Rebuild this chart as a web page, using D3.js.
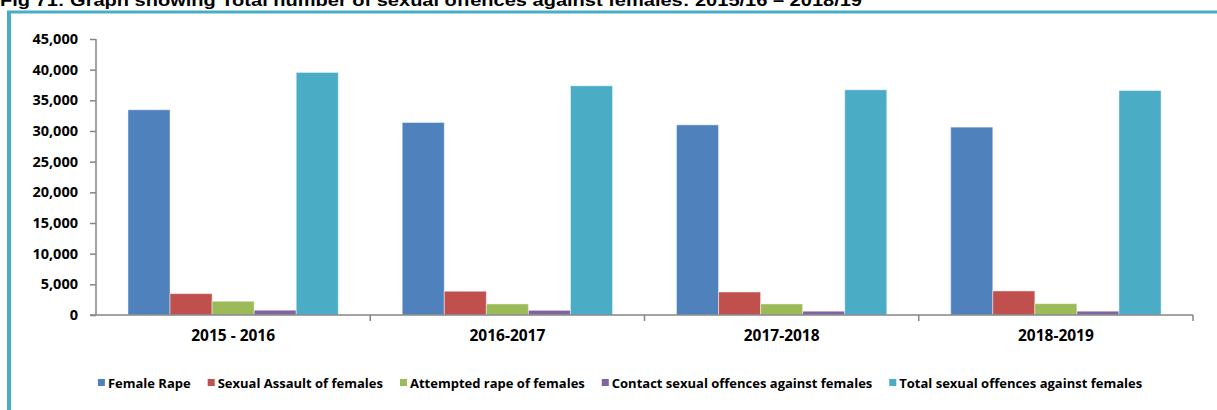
<!DOCTYPE html>
<html><head><meta charset="utf-8">
<script src="https://cdn.jsdelivr.net/npm/d3@7"></script>
<style>
html,body{margin:0;padding:0;background:#fff;overflow:hidden}
svg{display:block}
</style></head>
<body>
<svg id="c" width="1217" height="410"></svg>
<script>
const titleText = "Fig 71: Graph showing Total number of sexual offences against females: 2015/16 \u2013 2018/19";
const categories = ["2015 - 2016", "2016-2017", "2017-2018", "2018-2019"];
const seriesNames = ["Female Rape", "Sexual Assault of females", "Attempted rape of females", "Contact sexual offences against females", "Total sexual offences against females"];
const femaleRape = [33460, 31390, 31000, 30630];
const sexualAssault = [3480, 3870, 3750, 3920];
const attemptedRape = [2240, 1800, 1800, 1850];
const contactOffences = [780, 760, 620, 620];
const totalOffences = [39550, 37370, 36720, 36600];
const yTicks = [0, 5000, 10000, 15000, 20000, 25000, 30000, 35000, 40000, 45000];
const colors = ["#4f81bd", "#c0504d", "#9bbb59", "#8064a2", "#4bacc6"];

const seriesValues = [femaleRape, sexualAssault, attemptedRape, contactOffences, totalOffences];
const svg = d3.select("#c");
const font = "'Open Sans', 'Liberation Sans', sans-serif";

// frame
svg.append("line").attr("x1", 9).attr("x2", 9).attr("y1", 11).attr("y2", 410)
  .attr("stroke", "#4bacc6").attr("stroke-width", 4);
svg.append("line").attr("x1", 7).attr("x2", 1217).attr("y1", 12).attr("y2", 12)
  .attr("stroke", "#4bacc6").attr("stroke-width", 3);

// title (cut at top)
svg.append("text").attr("x", 0).attr("y", 6)
  .attr("font-family", "'Liberation Sans Narrow', 'Liberation Sans', Arial, sans-serif")
  .attr("font-weight", "bold").attr("font-size", 16)
  .attr("textLength", 862).attr("lengthAdjust", "spacingAndGlyphs")
  .attr("fill", "#000").text(titleText);

const x0 = d3.scaleBand().domain(categories).range([96, 1193]).paddingInner(0).paddingOuter(0);
const x1 = d3.scaleBand().domain(d3.range(seriesNames.length)).range([0, x0.bandwidth()]).paddingOuter(0.76).paddingInner(0);
const y = d3.scaleLinear().domain([0, 45000]).range([315, 39]);

// bars
categories.forEach((c, ci) => {
  const g = svg.append("g").attr("transform", `translate(${x0(c)},0)`);
  seriesValues.forEach((vals, si) => {
    g.append("rect")
      .attr("x", x1(si)).attr("width", x1.bandwidth())
      .attr("y", y(vals[ci])).attr("height", y(0) - y(vals[ci]))
      .attr("fill", colors[si])
      .attr("stroke", "rgba(255,255,255,0.45)").attr("stroke-width", 1);
  });
});

// y axis
const yAxis = svg.append("g").attr("transform", "translate(96,0)")
  .call(d3.axisLeft(y).tickValues(yTicks).tickSize(6).tickFormat(d3.format(",")));
yAxis.select(".domain").attr("stroke", "#868686").attr("stroke-width", 1.5)
  .attr("d", "M0,39V315");
yAxis.selectAll(".tick line").attr("stroke", "#868686").attr("stroke-width", 1.5);
yAxis.selectAll(".tick text").attr("x", -18).attr("fill", "#000")
  .attr("font-family", font).attr("font-weight", "bold").attr("font-size", 14.5);

// x axis
const xAxis = svg.append("g").attr("transform", "translate(0,315)")
  .call(d3.axisBottom(x0).tickSize(0).tickPadding(15));
xAxis.select(".domain").remove();
svg.append("line").attr("x1", 90).attr("x2", 1193).attr("y1", 315).attr("y2", 315)
  .attr("stroke", "#868686").attr("stroke-width", 1.5);
const bounds = categories.map(c => x0(c)).concat([x0(categories[categories.length - 1]) + x0.bandwidth()]);
bounds.slice(1).forEach(b => {
  svg.append("line").attr("x1", b).attr("x2", b).attr("y1", 315).attr("y2", 321)
    .attr("stroke", "#868686").attr("stroke-width", 1.5);
});
xAxis.selectAll(".tick text").attr("fill", "#000")
  .attr("font-family", font).attr("font-weight", "bold").attr("font-size", 15.5);

// legend
const leg = svg.append("g");
let lx = 0;
seriesNames.forEach((n, i) => {
  const it = leg.append("g").attr("transform", `translate(${lx},0)`);
  it.append("rect").attr("x", 0).attr("y", 379).attr("width", 7).attr("height", 7).attr("fill", colors[i]);
  const t = it.append("text").attr("x", 10).attr("y", 388)
    .attr("font-family", font).attr("font-weight", "bold").attr("font-size", 13)
    .attr("fill", "#000").text(n);
  lx += 10 + t.node().getComputedTextLength() + 17;
});
const legW = lx - 17;
leg.attr("transform", `translate(${(87 + 1153) / 2 - legW / 2},0)`);
</script>
</body></html>
